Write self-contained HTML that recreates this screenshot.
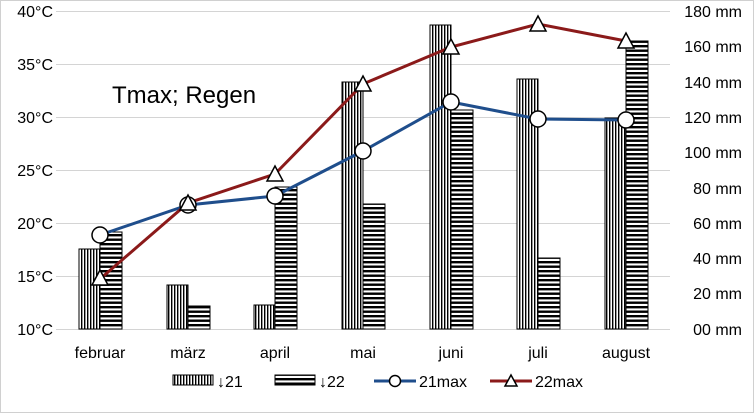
<!DOCTYPE html>
<html><head><meta charset="utf-8"><style>body{margin:0;background:#fff}svg{display:block;font-family:"Liberation Sans",sans-serif}</style></head><body>
<svg width="754" height="413" viewBox="0 0 754 413">
<defs>
<pattern id="pv" width="3" height="4" patternUnits="userSpaceOnUse"><rect width="3" height="4" fill="#fff"/><rect width="1.4" height="4" fill="#000"/></pattern>
<pattern id="ph" width="4" height="4.5" patternUnits="userSpaceOnUse"><rect width="4" height="4.5" fill="#fff"/><rect width="4" height="2.4" fill="#000"/></pattern>
</defs>
<rect x="0.5" y="0.5" width="753" height="412" fill="#fff" stroke="#d0d0d0"/>
<g stroke="#d4d4d4" stroke-width="1">
<line x1="56" x2="670" y1="11.5" y2="11.5"/><line x1="56" x2="670" y1="64.5" y2="64.5"/><line x1="56" x2="670" y1="117.5" y2="117.5"/><line x1="56" x2="670" y1="170.5" y2="170.5"/><line x1="56" x2="670" y1="223.5" y2="223.5"/><line x1="56" x2="670" y1="276.5" y2="276.5"/><line x1="56" x2="670" y1="329.5" y2="329.5"/>
</g>
<g font-size="16" fill="#000" text-anchor="end">
<text x="53" y="17">40°C</text><text x="53" y="70">35°C</text><text x="53" y="123">30°C</text><text x="53" y="176">25°C</text><text x="53" y="229">20°C</text><text x="53" y="282">15°C</text><text x="53" y="335">10°C</text>
</g>
<g font-size="16" fill="#000" text-anchor="end">
<text x="742" y="17">180 mm</text><text x="742" y="52">160 mm</text><text x="742" y="88">140 mm</text><text x="742" y="123">120 mm</text><text x="742" y="158">100 mm</text><text x="742" y="194">80 mm</text><text x="742" y="229">60 mm</text><text x="742" y="264">40 mm</text><text x="742" y="299">20 mm</text><text x="742" y="335">00 mm</text>
</g>
<g stroke="#000" stroke-width="1">
<rect x="79" y="249" width="21" height="80" fill="url(#pv)"/><rect x="100" y="232" width="22" height="97" fill="url(#ph)"/>
<rect x="167" y="285" width="21" height="44" fill="url(#pv)"/><rect x="188" y="306" width="22" height="23" fill="url(#ph)"/>
<rect x="254" y="305" width="21" height="24" fill="url(#pv)"/><rect x="275" y="187" width="22" height="142" fill="url(#ph)"/>
<rect x="342" y="82" width="21" height="247" fill="url(#pv)"/><rect x="363" y="204" width="22" height="125" fill="url(#ph)"/>
<rect x="430" y="25" width="21" height="304" fill="url(#pv)"/><rect x="451" y="110" width="22" height="219" fill="url(#ph)"/>
<rect x="517" y="79" width="21" height="250" fill="url(#pv)"/><rect x="538" y="258" width="22" height="71" fill="url(#ph)"/>
<rect x="605" y="118" width="21" height="211" fill="url(#pv)"/><rect x="626" y="41" width="22" height="288" fill="url(#ph)"/>
</g>
<polyline points="100,235 188,205 275,196 363,151 451,102 538,119 626,120" fill="none" stroke="#1f4e8c" stroke-width="3"/>
<polyline points="100,279 188,203 275,174 363,84 451,47 538,24 626,41" fill="none" stroke="#8b1a1a" stroke-width="3"/>
<g fill="#fff" stroke="#000" stroke-width="1.5">
<circle cx="100" cy="235" r="8"/><circle cx="188" cy="205" r="8"/><circle cx="275" cy="196" r="8"/><circle cx="363" cy="151" r="8"/><circle cx="451" cy="102" r="8"/><circle cx="538" cy="119" r="8"/><circle cx="626" cy="120" r="8"/>
<polygon points="100,270 108,285 92,285"/><polygon points="188,195 196,210 180,210"/><polygon points="275,166 283,181 267,181"/><polygon points="363,76 371,91 355,91"/><polygon points="451,39 459,54 443,54"/><polygon points="538,16 546,31 530,31"/><polygon points="626,33 634,48 618,48"/>
</g>
<text x="112" y="103" font-size="24" fill="#000">Tmax; Regen</text>
<g font-size="16" fill="#000" text-anchor="middle">
<text x="100" y="358">februar</text><text x="188" y="358">märz</text><text x="275" y="358">april</text><text x="363" y="358">mai</text><text x="451" y="358">juni</text><text x="538" y="358">juli</text><text x="626" y="358">august</text>
</g>
<g font-size="16" fill="#000">
<rect x="173" y="375" width="40" height="10" fill="url(#pv)" stroke="#000"/><text x="217" y="387">↓21</text>
<rect x="275" y="375" width="40" height="10" fill="url(#ph)" stroke="#000"/><text x="319" y="387">↓22</text>
<line x1="374" x2="416" y1="381" y2="381" stroke="#1f4e8c" stroke-width="3"/><circle cx="395" cy="381" r="5.5" fill="#fff" stroke="#000" stroke-width="1.5"/><text x="419" y="387">21max</text>
<line x1="490" x2="532" y1="381" y2="381" stroke="#8b1a1a" stroke-width="3"/><polygon points="511,375 517,386 505,386" fill="#fff" stroke="#000" stroke-width="1.5"/><text x="535" y="387">22max</text>
</g>
</svg>
</body></html>
